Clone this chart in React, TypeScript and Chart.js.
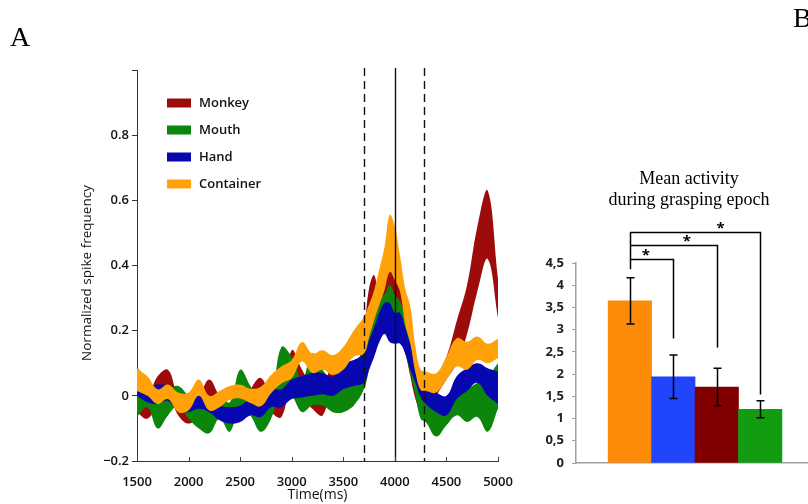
import { useEffect, useRef } from "react";
import { Chart, registerables } from "chart.js";

Chart.register(...registerables);

// ---------- Panel A: normalized spike frequency, mean ± SE bands ----------
const TIME_MS = [
  1500, 1600, 1700, 1800, 1900, 2000, 2100, 2200, 2300, 2400, 2500, 2600, 2700, 2800, 2900, 3000, 3100, 3200, 3300,
  3400, 3500, 3600, 3700, 3750, 3800, 3850, 3900, 3950, 4000, 4050, 4100, 4150, 4200, 4250, 4300, 4400, 4500, 4600,
  4700, 4800, 4900, 5000,
];

const MONKEY_HI = [
  0.05, 0.0, 0.06, 0.08, 0.0, -0.02, 0.0, 0.05, 0.0, -0.03, -0.03, 0.02, 0.055, 0.0, -0.01, 0.14, 0.08, 0.03, 0.01,
  0.12, 0.05, 0.05, 0.2, 0.33, 0.37, 0.3, 0.36, 0.45, 0.44, 0.36, 0.28, 0.2, 0.12, 0.06, 0.04, 0.06, 0.12, 0.23, 0.34,
  0.52, 0.63, 0.36,
];
const MONKEY_LO = [
  -0.05, -0.07, -0.03, 0.0, -0.06, -0.085, -0.06, -0.02, -0.06, -0.07, -0.075, -0.04, -0.01, -0.05, -0.065, 0.04, 0.0,
  -0.04, -0.06, 0.03, -0.03, -0.03, 0.1, 0.2, 0.22, 0.2, 0.25, 0.3, 0.28, 0.22, 0.14, 0.06, -0.01, -0.05, -0.05, 0.0,
  0.05, 0.1, 0.19, 0.32, 0.42, 0.24,
];

const MOUTH_HI = [
  0.09, 0.03, 0.0, 0.02, 0.03, 0.0, -0.02, -0.03, 0.0, -0.02, 0.08, 0.03, -0.02, 0.0, 0.15, 0.12, 0.05, 0.13, 0.08,
  0.04, 0.06, 0.1, 0.14, 0.2, 0.27, 0.3, 0.31, 0.34, 0.31, 0.29, 0.24, 0.17, 0.11, 0.05, 0.0, -0.03, -0.02, 0.0, 0.02,
  0.04, 0.06, 0.1,
];
const MOUTH_LO = [
  -0.065, -0.035, -0.1, -0.06, -0.03, -0.07, -0.1, -0.115, -0.07, -0.11, -0.03, -0.06, -0.11, -0.07, 0.02, 0.0, -0.05,
  -0.03, -0.03, -0.05, -0.05, -0.03, 0.02, 0.08, 0.14, 0.19, 0.22, 0.24, 0.21, 0.19, 0.13, 0.07, 0.0, -0.07, -0.08,
  -0.125, -0.09, -0.06, -0.08, -0.065, -0.11, -0.04,
];

const HAND_HI = [
  0.09, 0.03, 0.035, 0.03, -0.005, -0.01, 0.0, -0.01, -0.03, -0.035, -0.03, -0.01, -0.01, 0.02, 0.02, 0.05, 0.06, 0.07,
  0.07, 0.06, 0.1, 0.11, 0.13, 0.17, 0.21, 0.255, 0.285, 0.285, 0.255, 0.255, 0.21, 0.16, 0.11, 0.04, 0.03, 0.01, 0.0,
  0.06, 0.085, 0.1, 0.085, 0.075,
];
const HAND_LO = [
  0.0, -0.02, -0.025, -0.015, -0.045, -0.05, -0.04, -0.05, -0.075, -0.085, -0.08, -0.06, -0.065, -0.035, -0.035, -0.01,
  -0.005, 0.0, 0.005, 0.0, 0.02, 0.03, 0.04, 0.08, 0.12, 0.165, 0.19, 0.165, 0.16, 0.16, 0.13, 0.08, 0.04, -0.005,
  -0.025, -0.05, -0.06, -0.01, 0.015, 0.04, 0.0, -0.025,
];

const CONTAINER_HI = [
  0.085, 0.06, 0.02, 0.035, 0.01, 0.01, 0.05, 0.0, 0.015, 0.03, 0.034, 0.022, 0.028, 0.064, 0.09, 0.11, 0.165, 0.13,
  0.14, 0.125, 0.15, 0.2, 0.243, 0.28, 0.325, 0.39, 0.457, 0.555, 0.52, 0.43, 0.33, 0.274, 0.15, 0.08, 0.075, 0.069,
  0.12, 0.177, 0.166, 0.182, 0.16, 0.175,
];
const CONTAINER_LO = [
  0.015, 0.0, -0.025, -0.01, -0.05, -0.045, 0.0, -0.045, -0.035, -0.012, -0.008, -0.022, -0.032, 0.008, 0.038, 0.054,
  0.105, 0.07, 0.08, 0.064, 0.08, 0.12, 0.13, 0.18, 0.233, 0.28, 0.325, 0.38, 0.355, 0.32, 0.22, 0.16, 0.07, 0.018,
  0.015, 0.01, 0.05, 0.09, 0.08, 0.11, 0.1, 0.115,
];

const SERIES_LABELS = ["Monkey", "Mouth", "Hand", "Container"];
const SERIES_HI = [MONKEY_HI, MOUTH_HI, HAND_HI, CONTAINER_HI];
const SERIES_LO = [MONKEY_LO, MOUTH_LO, HAND_LO, CONTAINER_LO];
const SERIES_COLORS = ["#9e0b0b", "#0b860b", "#0707b0", "#ffa209"];

const EVENT_DASHED_MS = [3700, 4280];
const EVENT_SOLID_MS = 4000;
const TIME_TICKS = [1500, 2000, 2500, 3000, 3500, 4000, 4500, 5000];

// ---------- Panel B: mean activity during grasping epoch ----------
const CONDITIONS = ["Container", "Hand", "Monkey", "Mouth"];
const MEAN_ACTIVITY = [3.65, 1.94, 1.71, 1.21];
const ACTIVITY_SE = [0.52, 0.49, 0.42, 0.19];
const BAR_COLORS = ["#fb8b08", "#2145fa", "#800000", "#119c11"];
const BRACKET_START = 4.36;
const BRACKET_LEVEL = [4.6, 4.9, 5.2];
const BRACKET_END = [2.8, 2.6, 1.54];
const STAR_AT = [1.37, 2.31, 3.09];

const SANS = '"Open Sans", "DejaVu Sans", sans-serif';
const SERIF = '"Liberation Serif", "DejaVu Serif", serif';

const toPoints = (ys: number[]) => TIME_MS.map((t, i) => ({ x: t, y: ys[i] }));

const panelAOverlay = {
  id: "panelAOverlay",
  afterDatasetsDraw(chart: any) {
    const { ctx, chartArea, scales } = chart;
    const xs = scales.x;
    ctx.save();
    ctx.strokeStyle = "#111";
    ctx.lineWidth = 1.4;
    ctx.setLineDash([8, 5]);
    EVENT_DASHED_MS.forEach((t) => {
      const px = Math.round(xs.getPixelForValue(t)) + 0.5;
      ctx.beginPath();
      ctx.moveTo(px, chartArea.top - 2);
      ctx.lineTo(px, chartArea.bottom);
      ctx.stroke();
    });
    ctx.setLineDash([]);
    const sx = Math.round(xs.getPixelForValue(EVENT_SOLID_MS)) + 0.5;
    ctx.beginPath();
    ctx.moveTo(sx, chartArea.top - 2);
    ctx.lineTo(sx, chartArea.bottom);
    ctx.stroke();
    ctx.restore();
  },
  afterDraw(chart: any) {
    const { ctx, chartArea, scales } = chart;
    ctx.save();
    // inward tick marks on the time axis
    ctx.strokeStyle = "#444";
    ctx.lineWidth = 1;
    TIME_TICKS.forEach((t) => {
      const px = Math.round(scales.x.getPixelForValue(t)) + 0.5;
      ctx.beginPath();
      ctx.moveTo(px, chartArea.bottom);
      ctx.lineTo(px, chartArea.bottom - 4);
      ctx.stroke();
    });
    // legend inside the plot
    ctx.textAlign = "left";
    ctx.textBaseline = "middle";
    ctx.font = `600 13px ${SANS}`;
    SERIES_LABELS.forEach((name, i) => {
      const y = chartArea.top + 33 + i * 27;
      ctx.fillStyle = SERIES_COLORS[i];
      ctx.fillRect(chartArea.left + 30, y - 4.5, 24, 9);
      ctx.fillStyle = "#111";
      ctx.fillText(name, chartArea.left + 62, y);
    });
    // y axis title
    ctx.save();
    ctx.translate(87, 273);
    ctx.rotate(-Math.PI / 2);
    ctx.textAlign = "center";
    ctx.font = `500 13.5px ${SANS}`;
    ctx.fillText("Normalized spike frequency", 0, 0);
    ctx.restore();
    // panel letter
    ctx.font = `28px ${SERIF}`;
    ctx.textBaseline = "alphabetic";
    ctx.fillStyle = "#000";
    ctx.fillText("A", 10, 46);
    ctx.restore();
  },
};

const panelBOverlay = {
  id: "panelBOverlay",
  afterDraw(chart: any) {
    const { ctx, chartArea, scales } = chart;
    const xs = scales.x;
    const ys = scales.y;
    ctx.save();
    ctx.strokeStyle = "#000";
    ctx.lineWidth = 1.5;
    // error bars
    MEAN_ACTIVITY.forEach((m, i) => {
      const px = Math.round(xs.getPixelForValue(i + 1)) + 0.5;
      const top = ys.getPixelForValue(m + ACTIVITY_SE[i]);
      const bot = ys.getPixelForValue(m - ACTIVITY_SE[i]);
      ctx.beginPath();
      ctx.moveTo(px, top);
      ctx.lineTo(px, bot);
      ctx.moveTo(px - 4, top);
      ctx.lineTo(px + 4, top);
      ctx.moveTo(px - 4, bot);
      ctx.lineTo(px + 4, bot);
      ctx.stroke();
    });
    // significance brackets from the first bar to each of the others
    const x0 = Math.round(xs.getPixelForValue(1)) + 0.5;
    ctx.beginPath();
    ctx.moveTo(x0, ys.getPixelForValue(BRACKET_START));
    ctx.lineTo(x0, ys.getPixelForValue(Math.max(...BRACKET_LEVEL)));
    ctx.stroke();
    BRACKET_LEVEL.forEach((lvl, k) => {
      const y = Math.round(ys.getPixelForValue(lvl)) + 0.5;
      const x1 = Math.round(xs.getPixelForValue(k + 2)) + 0.5;
      ctx.beginPath();
      ctx.moveTo(x0, y);
      ctx.lineTo(x1, y);
      ctx.lineTo(x1, ys.getPixelForValue(BRACKET_END[k]));
      ctx.stroke();
      ctx.fillStyle = "#000";
      ctx.font = `bold 15px ${SANS}`;
      ctx.textAlign = "center";
      ctx.textBaseline = "middle";
      ctx.fillText("*", xs.getPixelForValue(STAR_AT[k]), y - 4);
    });
    // title
    ctx.fillStyle = "#000";
    ctx.font = `18px ${SERIF}`;
    ctx.textAlign = "center";
    ctx.textBaseline = "middle";
    ctx.fillText("Mean activity", chartArea.left + 113, 179);
    ctx.fillText("during grasping epoch", chartArea.left + 113, 200.5);
    // panel letter
    ctx.font = `28px ${SERIF}`;
    ctx.textAlign = "left";
    ctx.textBaseline = "alphabetic";
    ctx.fillText("B", 273, 27);
    ctx.restore();
  },
};

export default function App() {
  const aRef = useRef<HTMLCanvasElement>(null);
  const bRef = useRef<HTMLCanvasElement>(null);

  useEffect(() => {
    if (!aRef.current || !bRef.current) return;

    const bandDatasets: any[] = [];
    SERIES_LABELS.forEach((label, i) => {
      const order = SERIES_LABELS.length - i;
      bandDatasets.push({
        label: `${label} lower`,
        data: toPoints(SERIES_LO[i]),
        borderColor: "rgba(0,0,0,0)",
        borderWidth: 0,
        pointRadius: 0,
        fill: false,
        tension: 0.4,
        order,
      });
      bandDatasets.push({
        label,
        data: toPoints(SERIES_HI[i]),
        borderColor: "rgba(0,0,0,0)",
        backgroundColor: SERIES_COLORS[i],
        borderWidth: 0,
        pointRadius: 0,
        fill: "-1",
        tension: 0.4,
        order,
      });
    });

    const chartA = new Chart(aRef.current, {
      type: "line",
      data: { datasets: bandDatasets },
      options: {
        animation: false,
        responsive: false,
        layout: { padding: { left: 75, top: 70, right: 22, bottom: 0 } },
        plugins: { legend: { display: false }, tooltip: { enabled: false } },
        scales: {
          x: {
            type: "linear",
            min: 1500,
            max: 5000,
            grid: { display: false },
            border: { color: "#333", width: 1 },
            ticks: {
              stepSize: 500,
              padding: 5,
              color: "#111",
              font: { family: SANS, size: 13, weight: 600 },
              callback: (v: any) => String(v),
            },
            title: {
              display: true,
              text: "Time(ms)",
              color: "#111",
              font: { family: SANS, size: 14, weight: 500 },
              padding: { top: 0, bottom: 1 },
            },
            afterFit: (s: any) => {
              s.height = 43;
            },
          },
          y: {
            min: -0.2,
            max: 1.0,
            grid: { drawOnChartArea: false, tickLength: 5, color: "#333" },
            border: { color: "#333", width: 1 },
            ticks: {
              stepSize: 0.2,
              padding: 3,
              color: "#111",
              font: { family: SANS, size: 13, weight: 600 },
              callback: (v: any) => {
                const n = Math.round(Number(v) * 10) / 10;
                if (n >= 1) return "";
                if (n === 0) return "0";
                return n.toFixed(1).replace("-", "\u2212");
              },
            },
            afterFit: (s: any) => {
              s.width = 62;
            },
          },
        },
      },
      plugins: [panelAOverlay],
    });

    const chartB = new Chart(bRef.current, {
      type: "bar",
      data: {
        labels: CONDITIONS,
        datasets: [
          {
            label: "Mean activity",
            data: MEAN_ACTIVITY.map((m, i) => ({ x: i + 1, y: m })),
            backgroundColor: BAR_COLORS,
            borderWidth: 0,
            barPercentage: 1,
            categoryPercentage: 1,
          },
        ],
      },
      options: {
        animation: false,
        responsive: false,
        layout: { padding: { left: 0, top: 263, right: 0, bottom: 0 } },
        plugins: { legend: { display: false }, tooltip: { enabled: false } },
        scales: {
          x: {
            type: "linear",
            min: -0.24,
            max: 5.1,
            offset: false,
            grid: { display: false },
            border: { color: "#a0a0a0", width: 1.5 },
            ticks: { display: false },
            afterFit: (s: any) => {
              s.height = 41;
            },
          },
          y: {
            min: 0,
            max: 4.5,
            grid: { drawOnChartArea: false, tickLength: 4, color: "#a0a0a0" },
            border: { color: "#a0a0a0", width: 1.5 },
            ticks: {
              stepSize: 0.5,
              padding: 8,
              color: "#222",
              font: { family: SANS, size: 13, weight: "bold" },
              callback: (v: any) => String(Math.round(Number(v) * 10) / 10).replace(".", ","),
            },
            afterFit: (s: any) => {
              s.width = 56;
            },
          },
        },
      },
      plugins: [panelBOverlay],
    });

    return () => {
      chartA.destroy();
      chartB.destroy();
    };
  }, []);

  return (
    <div style={{ position: "absolute", left: 0, top: 0, width: 808, height: 504, background: "#fff" }}>
      <canvas ref={aRef} width={520} height={504} style={{ position: "absolute", left: 0, top: 0 }} />
      <canvas ref={bRef} width={288} height={504} style={{ position: "absolute", left: 520, top: 0 }} />
    </div>
  );
}
